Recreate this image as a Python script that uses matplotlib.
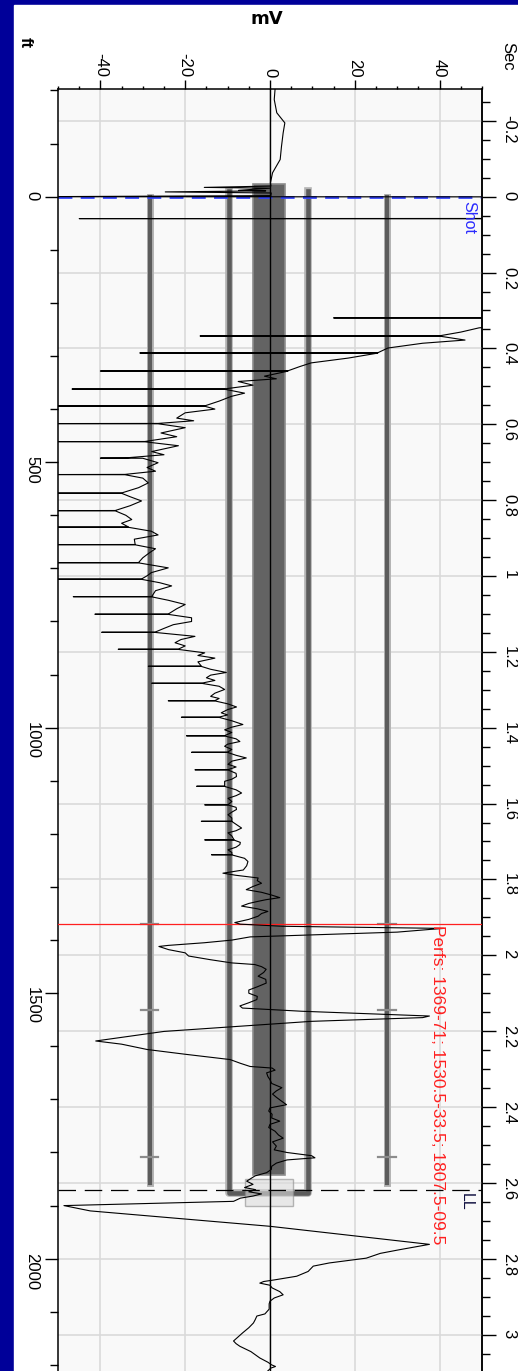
import numpy as np
import matplotlib
matplotlib.use("Agg")
import matplotlib.pyplot as plt
from matplotlib.patches import Rectangle
from matplotlib.ticker import MultipleLocator, FixedLocator, FormatStrFormatter

plt.rcParams['font.family'] = ['Liberation Sans', 'DejaVu Sans']
plt.rcParams['axes.unicode_minus'] = False

# -------- data (depth ft, signal mV) --------
trace = [
    (-203, 1.2), (-183, 1.0), (-158, 1.6), (-139, 3.5), (-120, 3.1), (-94, 2.7), (-70, 2.4),
    (-45, 0.6), (-26, 0.1), (-20, 0.2), (-17.5, -15.5), (-16, 0.0), (-12, -7.4), (-11, -1),
    (-9, -24.7), (-7, 0.3), (-2, 0.2), (0, -55), (0.3, 60), (41, 60), (41.3, -45), (41.6, 60),
    (228, 60), (228.3, 15), (228.6, 60), (240, 60), (247, 49.3), (255, 45), (262, 40),
    (262.3, -16.5), (262.6, 40), (270, 46), (276, 36), (285, 27.8), (294, 25.4), (294.3, -30.7),
    (294.6, 25.4), (304, 18.4), (313, 9.7), (320, 7), (328, 4.2), (328.3, -40), (328.6, 4.2),
    (338, -1.3), (343, 1.5), (348, -7.5), (355, -4), (362, -10.7), (362.3, -46.7), (362.6, -10.7),
    (370, -6), (376, -9.1), (385, -12), (394, -15.4), (394.3, -52), (394.6, -15.4), (400, -13),
    (407, -20), (417, -22), (422, -18), (427, -26.4), (427.3, -52), (427.6, -26.4), (435, -20),
    (445, -25.7), (452, -22), (461, -29.5), (461.3, -52), (461.6, -29.5), (469, -21.6),
    (480, -27.9), (486, -25), (492, -34.2), (492.3, -40), (492.6, -30), (501, -26.4), (510, -29),
    (517, -27), (523, -34.2), (523.3, -52), (523.6, -34.2), (530, -30), (539, -28.7), (548, -31),
    (558, -35), (558.3, -52), (558.6, -35), (565, -33), (573, -30.3), (582, -33), (591, -36.5),
    (591.3, -52), (591.6, -36.5), (600, -34), (608, -32.6), (615, -35), (622, -33.4),
    (622.3, -52), (622.6, -33.4), (630, -28), (637, -26.4), (645, -32), (655, -31.8),
    (655.3, -52), (655.6, -31.8), (663, -27), (671, -28.5), (680, -30), (689, -31), (689.3, -52),
    (689.6, -31), (699, -24), (708, -28), (714, -29), (720, -30.3), (720.3, -52), (720.6, -30.3),
    (727, -26), (733, -23.2), (742, -27), (753, -27.9), (753.3, -46.4), (753.6, -27.9), (760, -24),
    (768, -20), (776, -22), (786, -24), (786.3, -41.3), (786.6, -24), (793, -18.5), (800, -18.5),
    (806, -22.8), (813, -25), (820, -27.1), (820.3, -39.7), (820.6, -27.1), (828, -17.7),
    (834, -21), (840, -22.4), (846, -20), (852, -21.6), (852.3, -35.8), (852.6, -21.6),
    (859, -15.4), (864, -17), (869, -13), (876, -17), (884, -16.2), (884.3, -28.7), (884.6, -16.2),
    (890, -14), (896, -10.3), (901, -14), (906, -15), (911, -13), (916, -16), (916.3, -27.9),
    (916.6, -16), (922, -12), (928, -10.7), (935, -13), (941, -14), (945, -12), (949, -13),
    (949.3, -24), (949.6, -13), (955, -10), (961, -7.9), (966, -10), (972, -11.5), (976, -10),
    (980, -12), (980.3, -20.9), (980.6, -12), (987, -9), (994, -6.4), (999, -9), (1004, -10.7),
    (1009, -9), (1015, -10.7), (1015.3, -19.7), (1015.6, -10.7), (1021, -8), (1026, -7.1),
    (1031, -10), (1035, -10.7), (1041, -9), (1046, -10), (1046.3, -18.5), (1046.6, -10),
    (1052, -8), (1057, -5.6), (1063, -9), (1069, -9.9), (1074, -8), (1079, -9.9), (1079.3, -17.7),
    (1079.6, -9.9), (1086, -8), (1092, -7.9), (1097, -9), (1101, -10.7), (1106, -10.7),
    (1110, -10.7), (1110.3, -17.3), (1110.6, -10.7), (1117, -8), (1123, -6.7), (1128, -8),
    (1133, -9.9), (1139, -9), (1145, -9.9), (1145.3, -15.4), (1145.6, -9.9), (1150, -8),
    (1154, -7.9), (1159, -9), (1164, -9.9), (1170, -9), (1176, -9), (1176.3, -16.2), (1176.6, -9),
    (1182, -8), (1189, -6.7), (1194, -8), (1198, -9.9), (1204, -9), (1211, -8.5), (1211.3, -15.4),
    (1211.6, -8.5), (1216, -7), (1220, -7.1), (1225, -8), (1230, -9.9), (1235, -9), (1239, -9),
    (1239.3, -13.8), (1239.6, -9), (1246, -6), (1252, -5.2), (1260, -5.5), (1268, -6.3),
    (1274, -11.1), (1278, -8), (1283, -2.8), (1288, -3), (1293, -2), (1299, -4), (1305, -5.6),
    (1310, -2), (1315, 0.3), (1320, 2.3), (1324, -1), (1327, -2.8), (1331, -5), (1336, -6.7),
    (1341, -3), (1346, -0.5), (1350, -2), (1355, -2.8), (1361, -5), (1367, -8.3), (1370, -7),
    (1374, 3), (1378, 41), (1380, 37.6), (1385, 30), (1394, -4.7), (1400, -9), (1405, -15.5),
    (1410, -24), (1412, -26.2), (1418, -23.9), (1424, -20), (1430, -19.2), (1437, -14),
    (1443, -9), (1446, -3.6), (1450, -2), (1455, -0.9), (1461, -1.5), (1468, -2.8), (1474, -1),
    (1481, -0.9), (1488, -3), (1494, -5), (1500, -5), (1506, -3), (1512, -3.1), (1518, -5),
    (1524, -7.1), (1528, -6.5), (1534, 7.5), (1543, 37.6), (1546, 36), (1553, 9.8), (1572, -25),
    (1590, -41.1), (1596, -35), (1606, -29), (1615, -20), (1625, -9.4), (1632, -7), (1638, -4.7),
    (1641, 0.5), (1645, 1.2), (1650, -0.8), (1657, -0.5), (1663, 0), (1670, 0.4), (1678, 2.8),
    (1684, 1.5), (1690, 0.6), (1696, 1.5), (1702, 2.5), (1710, 3.9), (1716, 0), (1722, -0.3),
    (1728, 0.5), (1735, 0.4), (1741, 2.3), (1747, 0), (1753, -0.3), (1760, 1.2), (1767, 2),
    (1773, 3.1), (1780, 0.6), (1788, 1.5), (1795, 1), (1800, 4), (1806, 9.8), (1810, 10.6),
    (1814, 4), (1820, 1.5), (1826, 0.4), (1832, 0.3), (1838, -0.8), (1844, -3.5), (1854, -5.5),
    (1860, -4), (1866, -6), (1870, -3.4), (1874, -5), (1878, -2), (1882, -4), (1886, -7),
    (1892, -8.6), (1900, -48.6), (1910, -42.4), (1939, 0), (1973, 37.6), (1983, 30.6),
    (1990, 26), (1999, 22.7), (2008, 14), (2014, 10.2), (2024, 9), (2033, 6.3), (2040, 1),
    (2043, -1.5), (2046, -2.4), (2050, 0), (2055, 0.5), (2062, 2.3), (2068, 3.1), (2074, 1),
    (2080, 0), (2085, -0.2), (2095, -0.2), (2104, -1.2), (2108, -3.1), (2115, -3.5),
    (2121, -3.9), (2130, -5), (2140, -6.5), (2155, -8.6), (2160, -8), (2165, -7.1), (2175, -4.5),
    (2187, -2.4), (2195, -0.5), (2200, 0.4), (2203, 1.3), (2206, 0.2), (2215, -1),
]
trace_ft = [p[0] for p in trace]
trace_mv = [p[1] for p in trace]

# well sketch
tubing_mv = [-4.0, 3.6]
tubing_ft = [-24, 1842]
inner_mv = [-9.7, 8.9]
inner_ft = [-10, 1877]
outer_mv = [-28.4, 27.5]
outer_ft = [0, 1857]
box_mv = [-5.9, 5.4]
box_ft = [1850, 1900]
perf_ft = [1370, 1532, 1808.5]

shot_ft = 0
perf_line_ft = 1370
ll_ft = 1871
sec_per_ft = 0.0014
perf_label = "Perfs: 1369-71; 1530.5-33.5; 1807.5-09.5"

mv_ticks = [-40, -20, 0, 20, 40]
ft_ticks = [0, 500, 1000, 1500, 2000]
sec_ticks = [-0.2, 0, 0.2, 0.4, 0.6, 0.8, 1, 1.2, 1.4, 1.6, 1.8, 2, 2.2, 2.4, 2.6, 2.8, 3]

W, H = 518, 1371
fig = plt.figure(figsize=(W / 100, H / 100), dpi=100, facecolor='#000099')
fig.patches.append(Rectangle((14 / W, 0), (W - 14) / W, (H - 5) / H,
                             transform=fig.transFigure, color='white', zorder=-5))

ax = fig.add_axes([58 / W, 0, 424 / W, (H - 89) / H])
ax.set_facecolor('#f9f9f9')
ax.set_xlim(-50, 50)
ax.set_ylim(2211.5, -202.8)

for s in ['left', 'right', 'top']:
    ax.spines[s].set_linewidth(1.1)
ax.spines['bottom'].set_visible(False)

# grid
ax.set_axisbelow(True)
for v in mv_ticks:
    ax.axvline(v, color='#dadada', lw=1.2, zorder=0.5)
for t in sec_ticks:
    ax.axhline(t / sec_per_ft, color='#dadada', lw=1.2, zorder=0.5)

# tubing band
ax.add_patch(Rectangle((tubing_mv[0], tubing_ft[0]), tubing_mv[1] - tubing_mv[0],
                       tubing_ft[1] - tubing_ft[0], facecolor='#636363',
                       edgecolor='#8c8c8c', lw=1.2, zorder=1.5))

# inner U casing
ux = [inner_mv[0], inner_mv[0], inner_mv[1], inner_mv[1]]
uy = [inner_ft[0], inner_ft[1], inner_ft[1], inner_ft[0]]
ax.plot(ux, uy, color='#b4b4b4', lw=5.5, solid_joinstyle='round', zorder=1.2)
ax.plot(ux, uy, color='#5c5c5c', lw=3.3, solid_joinstyle='round', zorder=1.3)

# outer casing
for m in outer_mv:
    ax.plot([m, m], outer_ft, color='#b4b4b4', lw=5.0, zorder=1.2)
    ax.plot([m, m], outer_ft, color='#5c5c5c', lw=3.0, zorder=1.3)
    for p in perf_ft:
        ax.plot([m - 2.1, m + 2.1], [p, p], color='#8c8c8c', lw=1.6, zorder=1.4)

ax.add_patch(Rectangle((box_mv[0], box_ft[0]), box_mv[1] - box_mv[0], box_ft[1] - box_ft[0],
                       facecolor='#dcdcdc', alpha=0.6, edgecolor='#8a8a8a', lw=1.0, zorder=1.8))

# markers
ax.axhline(shot_ft, color='#3344ff', lw=2.0, ls=(0, (5, 3)), zorder=2.5)
ax.axhline(perf_line_ft, color='#ff2020', lw=0.9, zorder=2.6)
ax.axhline(ll_ft, color='black', lw=0.9, ls=(0, (14, 7)), zorder=2.6)
ax.axvline(0, color='black', lw=1.0, zorder=3)

ax.plot(trace_mv, trace_ft, color='black', lw=0.8, zorder=4)

ax.text(46.8, shot_ft + 8, 'Shot', color='#2a2aff', rotation=270, ha='center', va='top',
        fontsize=11.5, zorder=5)
ax.text(39.5, perf_line_ft + 2, perf_label, color='#ff2020', rotation=270, ha='center',
        va='top', fontsize=12.5, zorder=5)
ax.text(46.4, ll_ft + 5, 'LL', color='#101040', rotation=270, ha='center', va='top',
        fontsize=11.5, zorder=5)

# mV axis on top
ax.xaxis.tick_top()
ax.set_xticks(mv_ticks)
ax.xaxis.set_minor_locator(MultipleLocator(5))
ax.tick_params(axis='x', which='major', length=6.5, width=1.0, pad=2, labelsize=12,
               labelrotation=270)
ax.tick_params(axis='x', which='minor', length=2.4, width=1.0)

# ft axis on left
ax.set_yticks(ft_ticks)
ax.yaxis.set_minor_locator(MultipleLocator(100))
ax.tick_params(axis='y', which='major', length=9.4, width=1.0, pad=4, labelsize=12,
               labelrotation=270)
ax.tick_params(axis='y', which='minor', length=5.8, width=1.0)

# seconds axis on right
sec = ax.secondary_yaxis('right', functions=(lambda f: f * sec_per_ft, lambda s: s / sec_per_ft))
sec.yaxis.set_major_locator(FixedLocator(sec_ticks))
sec.yaxis.set_minor_locator(MultipleLocator(0.05))
sec.yaxis.set_major_formatter(FormatStrFormatter('%g'))
sec.tick_params(axis='y', which='major', length=10, width=1.0, pad=4, labelsize=12,
                labelrotation=270)
sec.tick_params(axis='y', which='minor', length=5.8, width=1.0)
sec.spines['right'].set_linewidth(1.1)

fig.text(267 / W, 1 - 19 / H, 'mV', ha='center', va='center', fontsize=13,
         fontweight='bold', family='DejaVu Sans')
fig.text(25.5 / W, 1 - 43 / H, 'ft', ha='center', va='center', fontsize=12, rotation=270,
         fontweight='bold')
fig.text(508 / W, 1 - 56 / H, 'Sec', ha='center', va='center', fontsize=12, rotation=270)

fig.savefig('out.png', dpi=100, facecolor=fig.get_facecolor())
